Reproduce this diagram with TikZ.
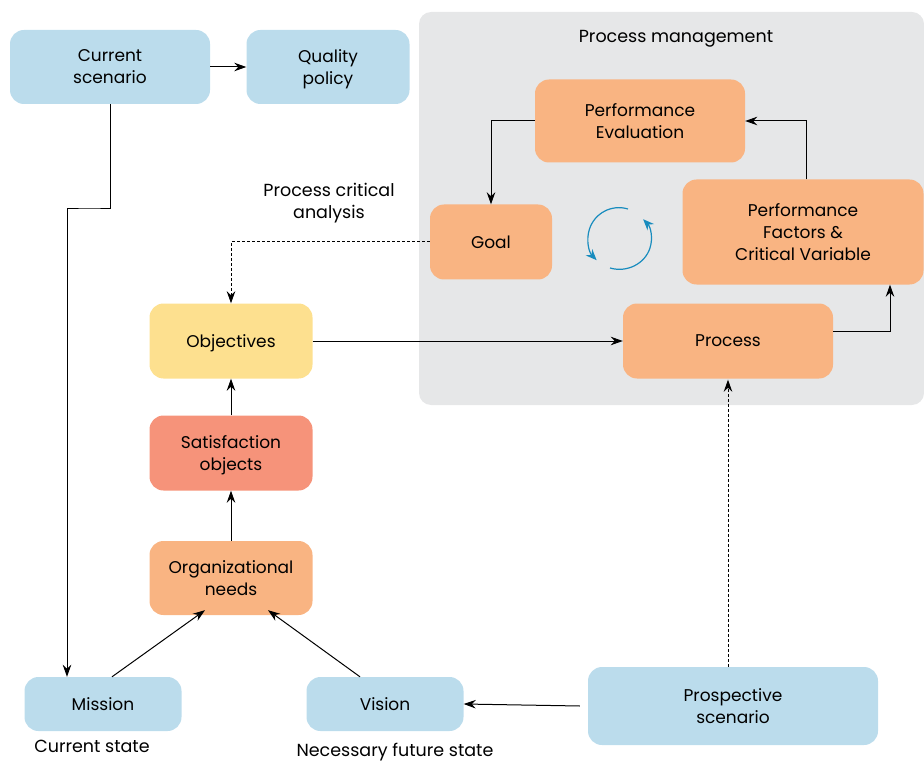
\documentclass[tikz,border=0pt]{standalone}
\usepackage{fontspec}
\setmainfont{Poppins}
\usetikzlibrary{arrows.meta}

\definecolor{boxblue}{RGB}{187,220,236}
\definecolor{boxorange}{RGB}{249,180,130}
\definecolor{boxred}{RGB}{246,147,122}
\definecolor{boxyellow}{RGB}{253,224,143}
\definecolor{panelgray}{RGB}{230,231,232}
\definecolor{cycleblue}{RGB}{24,140,190}

\tikzset{
  box/.style={rounded corners=14pt, align=center, inner sep=0pt, text depth=0pt, font=\fontsize{17}{22}\selectfont},
  bluebox/.style={box, fill=boxblue},
  orangebox/.style={box, fill=boxorange},
  arr/.style={-{Stealth[length=12pt,width=8.5pt]}, line width=1pt},
  darr/.style={arr, dashed, dash pattern=on 3pt off 2pt},
  caption/.style={font=\fontsize{17.5}{22}\selectfont, align=center},
  cyc/.style={cycleblue, line width=1.2pt, -{Stealth[length=11pt,width=9pt]}}
}

\begin{document}
\begin{tikzpicture}[x=1pt,y=-1pt]
	\useasboundingbox (0,0) rectangle (924,762);
	
	\fill[panelgray, rounded corners=12pt] (419,12) rectangle (924,405);
	\node[caption] (pmtitle) at (676,39) {Process management};
	
	% left column
	\node[bluebox, minimum width=200pt, minimum height=74pt] (cur) at (110,67) {Current\\scenario};
	\node[bluebox, minimum width=163pt, minimum height=74pt] (qual) at (328,67) {Quality\\policy};
	\node[box, fill=boxyellow, minimum width=163pt, minimum height=75pt] (obj) at (231,341) {Objectives};
	\node[box, fill=boxred, minimum width=163pt, minimum height=75pt] (sat) at (231,453) {Satisfaction\\objects};
	\node[orangebox, minimum width=163pt, minimum height=74pt] (org) at (231,578) {Organizational\\needs};
	\node[bluebox, minimum width=157pt, minimum height=54pt] (mis) at (103,704) {Mission};
	\node[bluebox, minimum width=157pt, minimum height=54pt] (vis) at (385,704) {Vision};
	\node[bluebox, minimum width=290pt, minimum height=78pt] (pros) at (733,706) {Prospective\\scenario};
	
	% process management
	\node[orangebox, minimum width=210pt, minimum height=83pt] (eval) at (640,121) {Performance\\Evaluation};
	\node[orangebox, minimum width=122pt, minimum height=75pt] (goal) at (491,242) {Goal};
	\node[orangebox, minimum width=241pt, minimum height=105pt] (fact) at (803,232) {Performance\\Factors \&\\Critical Variable};
	\node[orangebox, minimum width=210pt, minimum height=75pt] (proc) at (728,341) {Process};
	
	\node[caption] (curstate) at (92,746) {Current state};
	\node[caption] (futstate) at (395,752) {Necessary future state};
	\node[caption] (critical) at (329,203) {Process critical\\analysis};
	
	% connectors
	\draw[arr] (cur) -- (qual);
	\draw[arr] (cur.south) |- (90,209) -| ([xshift=-36]mis.north);
	\draw[arr] ([xshift=9]mis.north) -- ([xshift=-26,yshift=5]org.south);
	\draw[arr] ([xshift=-25]vis.north) -- ([xshift=37,yshift=5]org.south);
	\draw[arr] (pros.west) ++(-8,0) coordinate (prosl) -- (vis.east);
	\draw[darr] ([xshift=-5]pros.north) -- ([yshift=-1]proc.south);
	\draw[arr] (org) -- (sat);
	\draw[arr] (sat) -- (obj);
	\draw[arr] (obj) -- (proc);
	\draw[darr] (goal.west) -| (obj.north);
	\draw[arr] ([yshift=10]proc.east) -| ([xshift=87]fact.south);
	\draw[arr] ([xshift=3]fact.north) |- (eval.east);
	\draw[arr] (eval.west) -| (goal.north);
	
	% cycle
	\draw[cyc] (628,209) arc[start angle=-73, end angle=-224, x radius=31, y radius=31] coordinate (cyca);
	\draw[cyc] (610,268) arc[start angle=107, end angle=-42, x radius=32, y radius=30] coordinate (cycb);
\end{tikzpicture}
\end{document}
